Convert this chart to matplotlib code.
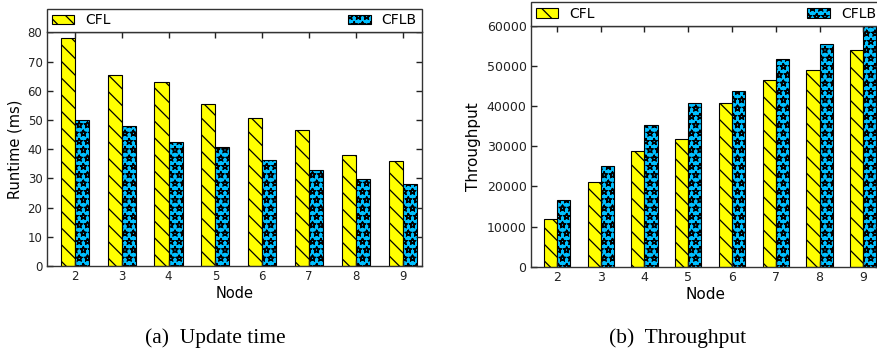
import matplotlib
matplotlib.use("Agg")
import matplotlib.hatch
import matplotlib.pyplot as plt
import numpy as np

nodes = [2, 3, 4, 5, 6, 7, 8, 9]

runtime_cfl = [77.9, 65.3, 62.9, 55.4, 50.8, 46.6, 37.9, 35.8]
runtime_cflb = [50.0, 48.0, 42.3, 40.9, 36.3, 32.9, 29.9, 28.1]

throughput_cfl = [12000, 21200, 28900, 31900, 40700, 46600, 49000, 53900]
throughput_cflb = [16600, 25100, 35400, 40800, 43800, 51700, 55400, 62000]

CFL_COLOR = "#FFFF00"
CFLB_COLOR = "#00BFFF"
EDGE = "#333333"

plt.rcParams["hatch.linewidth"] = 0.9
plt.rcParams["hatch.color"] = "black"

# outlined (hollow) stars like the original
matplotlib.hatch.Stars.filled = False
matplotlib.hatch.Stars.size = 0.36


def draw_panel(ax, cfl, cflb, ylabel, ylim, yticks, tick_fs, label_fs):
    x = np.array(nodes, dtype=float)
    w = 0.3
    ax.bar(x, cfl, width=-w, align="edge", color=CFL_COLOR, edgecolor="black",
           linewidth=0.8, hatch="\\\\", label="CFL")
    ax.bar(x, cflb, width=w, align="edge", color=CFLB_COLOR, edgecolor="black",
           linewidth=0.8, hatch="**", label="CFLB")

    ax.set_xlim(1.4, 9.4)
    ax.set_ylim(*ylim)
    ax.set_xticks(nodes)
    ax.set_yticks(yticks)
    ax.tick_params(direction="in", top=True, right=True, length=4, width=1,
                   labelsize=tick_fs, pad=3, colors="#222222")
    ax.set_xlabel("Node", fontsize=label_fs, labelpad=2)
    ax.set_ylabel(ylabel, fontsize=label_fs)
    for s in ax.spines.values():
        s.set_color(EDGE)
        s.set_linewidth(1.0)

    leg = ax.legend(loc="lower left", bbox_to_anchor=(0, 1, 1, 0.1), mode="expand",
                    ncol=2, borderaxespad=0, fancybox=False, framealpha=1,
                    fontsize=10, handlelength=1.6, handleheight=0.7,
                    borderpad=0.35)
    leg.get_frame().set_edgecolor(EDGE)
    leg.get_frame().set_linewidth(1.0)


fig = plt.figure(figsize=(8.77, 3.54), dpi=100)

ax1 = fig.add_axes([0.0532, 0.2486, 0.4276, 0.660])
draw_panel(ax1, runtime_cfl, runtime_cflb, "Runtime (ms)", (0, 80),
           range(0, 81, 10), 8.5, 10.5)

ax2 = fig.add_axes([0.6051, 0.2466, 0.3992, 0.6808])
draw_panel(ax2, throughput_cfl, throughput_cflb, "Throughput", (0, 60000),
           range(0, 60001, 10000), 9, 11)

fig.text(0.245, 0.031, "(a)  Update time", ha="center", va="baseline",
         family="Liberation Serif", fontsize=15.5)
fig.text(0.773, 0.031, "(b)  Throughput", ha="center", va="baseline",
         family="Liberation Serif", fontsize=15.5)

fig.savefig("out.png", dpi=100)
plt.close(fig)
